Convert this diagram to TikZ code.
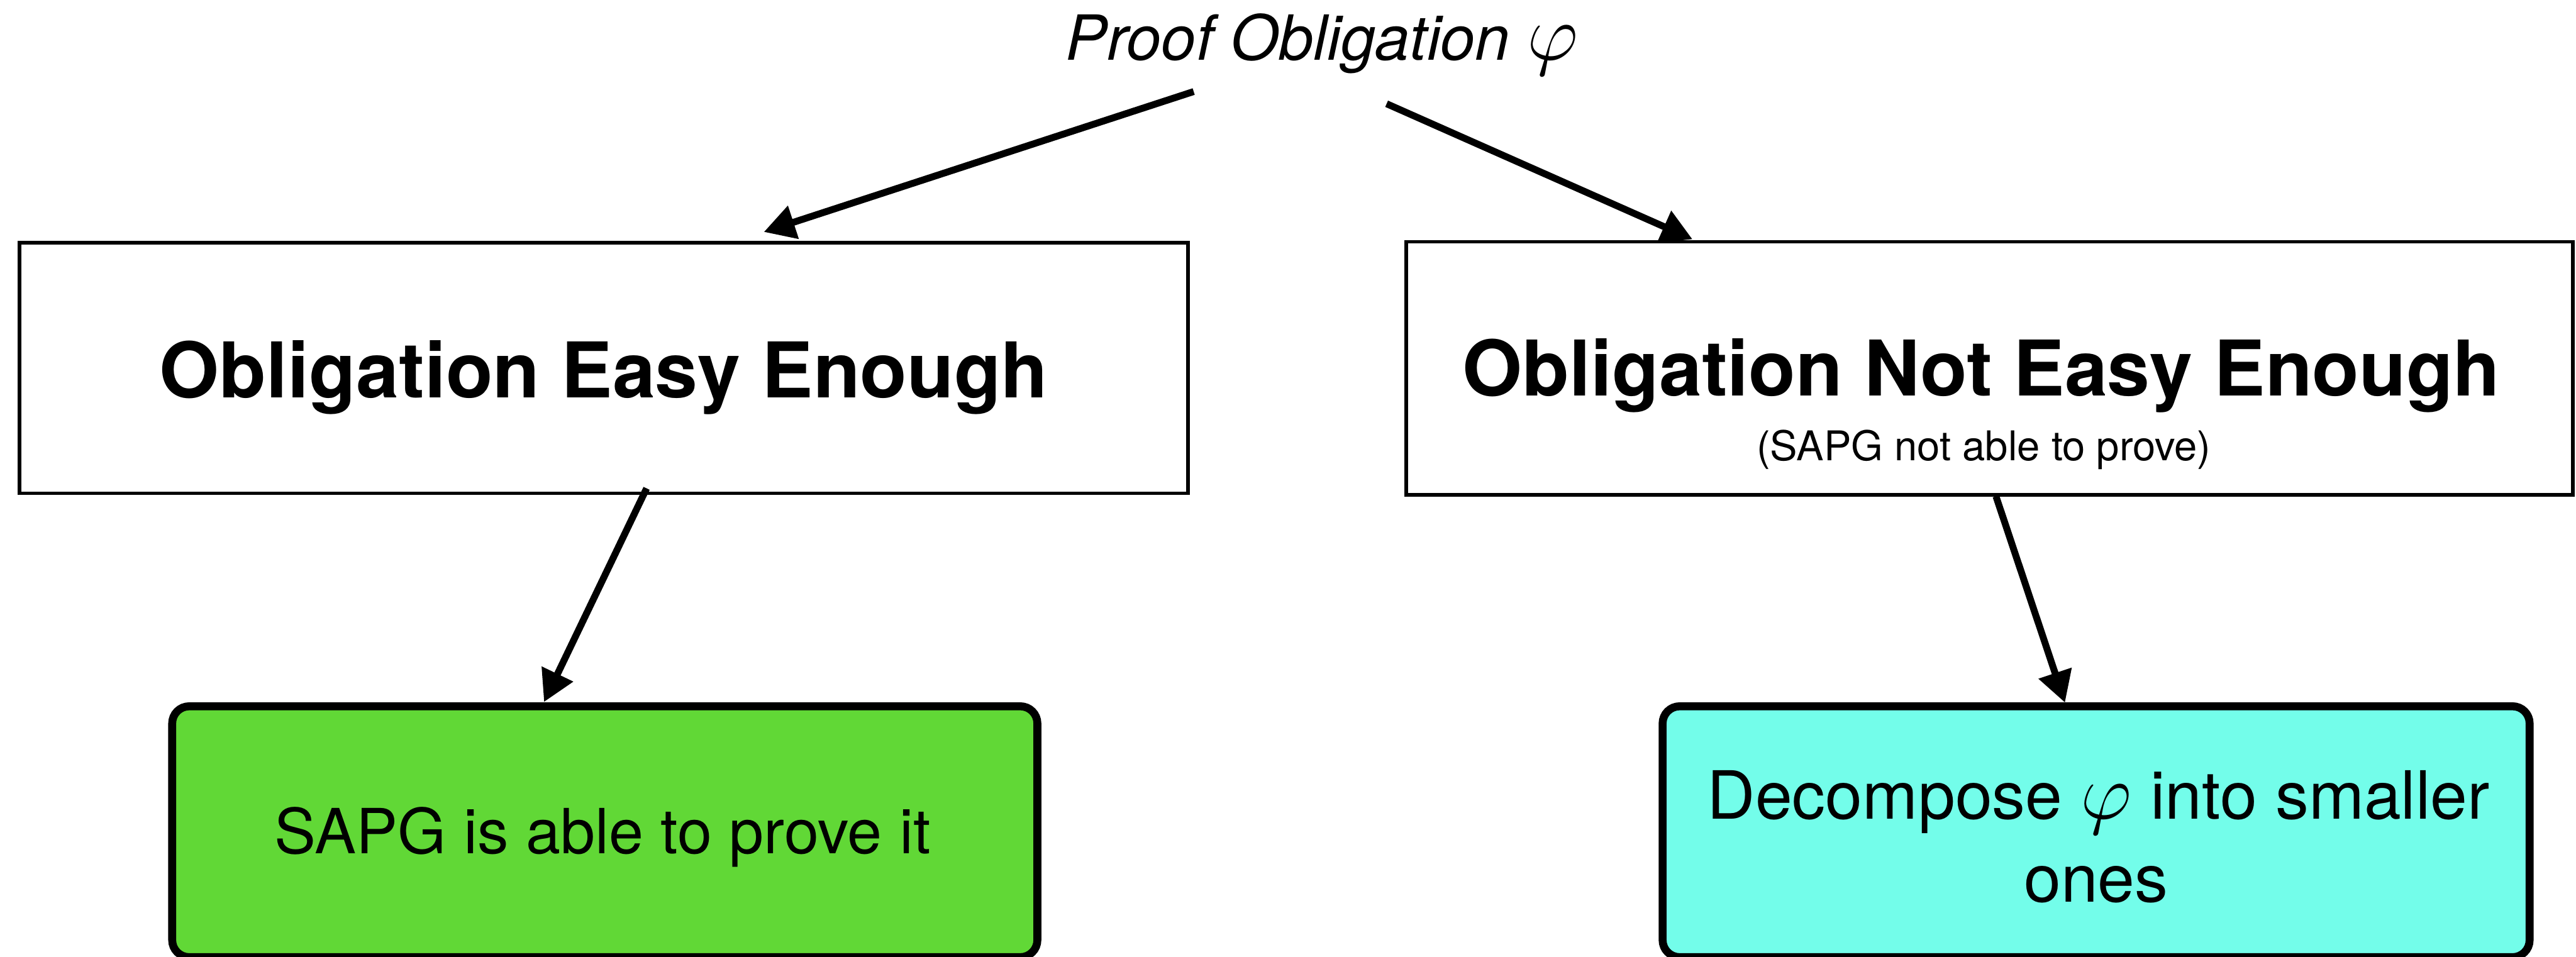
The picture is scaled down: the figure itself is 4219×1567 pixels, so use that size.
\documentclass[tikz,border=0pt]{standalone}
\usepackage{fix-cm}
\usepackage{fontspec}
\setmainfont{TeX Gyre Heros}
\usetikzlibrary{arrows.meta}
\definecolor{provedgreen}{HTML}{61D836}
\definecolor{splitaqua}{HTML}{73FDEA}
% the obligation symbol, set a little larger than the surrounding text
\newcommand\oblphi{{\fontsize{37}{40}\selectfont$\varphi$}}
\begin{document}
\begin{tikzpicture}[x=0.1mm, y=-0.1mm,
  every node/.style={inner sep=0pt, outer sep=0pt},
  casebox/.style={draw, line width=1.7pt, rectangle},
  resultbox/.style={draw, line width=3.7pt, rectangle, rounded corners=2.8mm},
  flow/.style={line width=3.2pt, -{Triangle[length=14.5pt,width=15.5pt]}},
  titlefont/.style={font=\fontsize{29}{35}\selectfont\itshape},
  headfont/.style={font=\fontsize{35.8}{43}\selectfont\bfseries},
  notefont/.style={font=\fontsize{19.1}{23}\selectfont},
  bodyfont/.style={font=\fontsize{29}{38.7}\selectfont},
  splitfont/.style={font=\fontsize{31}{38.7}\selectfont}
]
\useasboundingbox (0,0) rectangle (4219,1567);

% root statement
\node[titlefont, anchor=base] (title) at (2165,98) {Proof Obligation \oblphi};

% the two cases
\node[casebox, minimum width=191.4mm, minimum height=41mm] (easy) at (989,603) {};
\node[headfont, anchor=base] (easytext) at (989,652) {Obligation Easy Enough};

\node[casebox, minimum width=191.1mm, minimum height=41.5mm] (hard) at (3258.5,603.5) {};
\node[headfont, anchor=base] (hardtext) at (3245,648) {Obligation Not Easy Enough};
\node[notefont, anchor=base] (hardnote) at (3249,755) {(SAPG not able to prove)};

% outcomes
\node[resultbox, fill=provedgreen, minimum width=141.7mm, minimum height=41.1mm] (proved) at (990.5,1362.5) {};
\node[bodyfont, anchor=base] (provedtext) at (987,1398) {SAPG is able to prove it};

\node[resultbox, fill=splitaqua, minimum width=142mm, minimum height=41.1mm] (split) at (3433,1362.5) {};
\node[splitfont, anchor=base] (splittext) at (3437,1342) {Decompose \oblphi{} into smaller};
\node[splitfont, anchor=base] (splittext2) at (3433,1478) {ones};

% connector end points
\coordinate (rootL) at (1955,150);
\coordinate (rootR) at (2271,170);
\coordinate (easyIn) at (1251,380);
\coordinate (hardIn) at (2772,392);
\coordinate (easyOut) at (1059,800);
\coordinate (hardOut) at (3269,813);
\coordinate (provedIn) at (891,1150);
\coordinate (splitIn) at (3382,1151);

\draw[flow] (rootL) -- (easyIn);
\draw[flow] (rootR) -- (hardIn);
\draw[flow] (easyOut) -- (provedIn);
\draw[flow] (hardOut) -- (splitIn);
\end{tikzpicture}
\end{document}
